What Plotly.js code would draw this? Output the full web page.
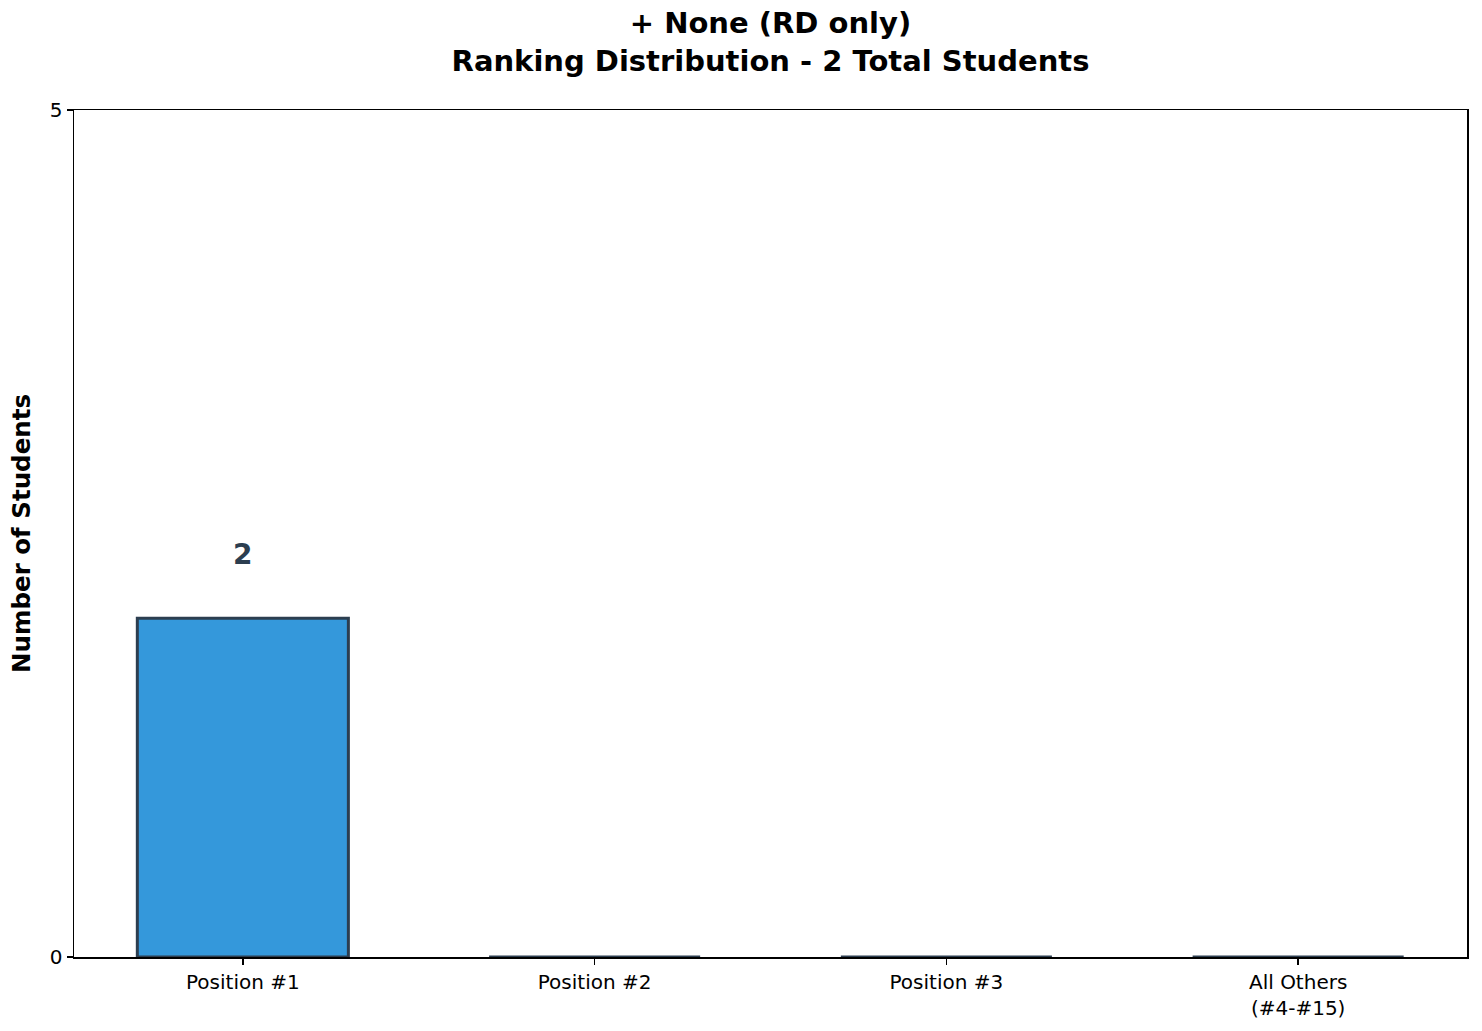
<!DOCTYPE html>
<html>
<head>
<meta charset="utf-8">
<script src="https://cdn.plot.ly/plotly-3.0.1.min.js"></script>
<style>html,body{margin:0;padding:0;background:#fff;}#chart{width:1482px;height:1031px;}</style>
</head>
<body>
<div id="chart"></div>
<script>
const categories = ["Position #1", "Position #2", "Position #3", "All Others<br>(#4-#15)"];
const counts = [2, 0, 0, 0];
const yTicks = [0, 5];
const titleLines = ["+ None (RD only)", "Ranking Distribution - 2 Total Students"];

const F = "DejaVu Sans, sans-serif";
const xIdx = categories.map((_, i) => i);

const trace = {
  type: "bar",
  x: xIdx,
  y: counts,
  width: 0.6,
  marker: {color: "#3498db", line: {color: "#2c3e50", width: 3}},
  hoverinfo: "none"
};

const annotations = counts.map((v, i) => v > 0 ? {
  x: i, y: v, xref: "x", yref: "y", text: "<b>" + v + "</b>", showarrow: false,
  yanchor: "middle", yshift: 64, font: {family: F, size: 28, color: "#2c3e50"}
} : null).filter(a => a);

const layout = {
  width: 1482, height: 1031,
  margin: {l: 74, r: 15, t: 110, b: 74},
  paper_bgcolor: "#fff", plot_bgcolor: "#fff",
  showlegend: false,
  bargap: 0,
  title: {
    text: titleLines.map(s => "<b>" + s + "</b>").join("<br>"),
    font: {family: F, size: 29, color: "#000"},
    x: 0.5, xanchor: "center", xref: "paper",
    y: 0.968, yanchor: "top", yref: "container"
  },
  xaxis: {
    range: [-0.48, 3.48],
    tickmode: "array", tickvals: xIdx, ticktext: categories,
    showgrid: false, zeroline: false,
    showline: true, linecolor: "#000", linewidth: 1.5, mirror: true,
    ticks: "outside", ticklen: 6, tickwidth: 1.4, tickcolor: "#000",
    tickfont: {family: F, size: 20, color: "#000"}
  },
  yaxis: {
    range: [0, 5],
    tickmode: "array", tickvals: yTicks, ticktext: yTicks.map(String),
    showgrid: false, zeroline: false,
    showline: true, linecolor: "#000", linewidth: 1.5, mirror: true,
    ticks: "outside", ticklen: 6, tickwidth: 1.4, tickcolor: "#000",
    tickfont: {family: F, size: 20, color: "#000"},
    title: {text: "<b>Number of Students</b>", font: {family: F, size: 24.5, color: "#000"}, standoff: 12}
  },
  annotations: annotations
};

Plotly.newPlot("chart", [trace], layout, {displayModeBar: false, staticPlot: true});
</script>
</body>
</html>
